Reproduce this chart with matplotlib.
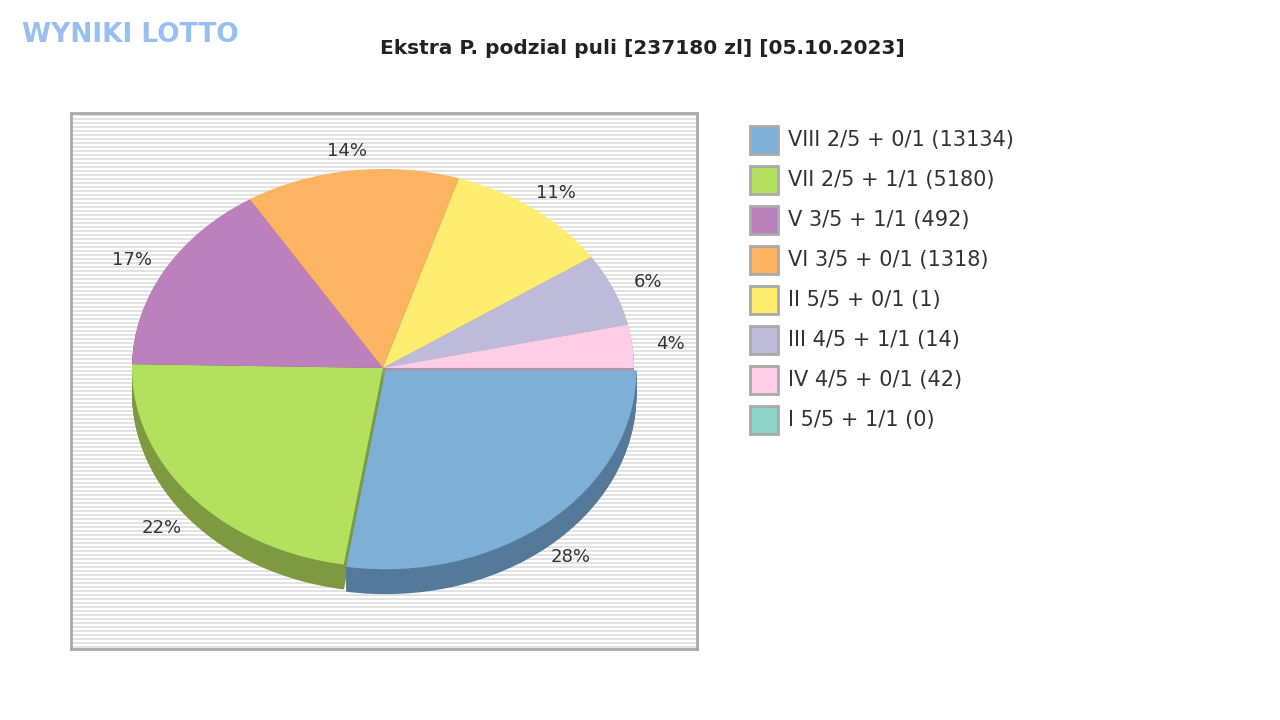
import numpy as np
import matplotlib
matplotlib.use("Agg")
import matplotlib.pyplot as plt

title = "Ekstra P. podzial puli [237180 zl] [05.10.2023]"
shares = [27.5, 22.8, 15.8, 13.8, 10.7, 5.9, 3.5]
pct_labels = ["28%", "22%", "17%", "14%", "11%", "6%", "4%"]
colors = ["#7eafd6", "#b3e05d", "#bc80bd", "#fdb462", "#ffed6f", "#bebada", "#fccde5"]
dark = ["#557a99", "#7d9a41", "#86598a", "#b57f44", "#b5a84e", "#87849c", "#b492a3"]
legend_labels = ["VIII 2/5 + 0/1 (13134)", "VII 2/5 + 1/1 (5180)", "V 3/5 + 1/1 (492)",
                 "VI 3/5 + 0/1 (1318)", "II 5/5 + 0/1 (1)", "III 4/5 + 1/1 (14)",
                 "IV 4/5 + 0/1 (42)", "I 5/5 + 1/1 (0)"]
legend_colors = colors + ["#8dd3c7"]

fig = plt.figure(figsize=(12.8, 7.2), dpi=100)
ax = fig.add_axes([71/1280, 71/720, 626/1280, 536/720])
ax.hlines(np.arange(0, 1, 4/536) + 2/536, 0, 1, transform=ax.transAxes, color="#e0e0e0", lw=1.3, zorder=0)

explode = [0.015] + [0]*6
depth = 0.125
for d in np.linspace(depth, 0.005, 25):
    ax.pie(shares, colors=dark, startangle=0, counterclock=False, explode=explode,
           center=(0, -d), radius=1, frame=True, normalize=True)
ax.pie(shares, colors=colors, startangle=0, counterclock=False, explode=explode,
       center=(0, 0), radius=1, frame=True, normalize=True)
ax.set_xlim(-1.243, 1.251)
ax.set_ylim(-1.412, 1.281)
ax.set_aspect('auto')
ax.set_xticks([]); ax.set_yticks([])
for s in ax.spines.values():
    s.set_color("#aaaaaa"); s.set_linewidth(2)

tot = sum(shares)
ang = 0
for s, lab in zip(shares, pct_labels):
    mid = ang + s/tot*180
    ang += s/tot*360
    t = np.deg2rad(-mid)
    x, y = 1.15*np.cos(t), 1.1*np.sin(t)
    if y < 0:
        y -= depth*1.2*abs(np.sin(t))
    ax.text(x, y, lab, ha="center", va="center", fontsize=13, color="#333333")

fig.text(642/1280, 1-48/720, title, ha="center", va="center", fontsize=14.5, fontweight="bold", color="#222222")
fig.text(22/1280, 1-35/720, "WYNIKI LOTTO", ha="left", va="center", fontsize=19, fontweight="bold",
         color="#8cb8f0", alpha=0.9)

for i, (lab, c) in enumerate(zip(legend_labels, legend_colors)):
    yc = 140 + 40*i
    fig.patches.append(plt.Rectangle((750/1280, 1-(yc+14)/720), 28/1280, 28/720,
                                     transform=fig.transFigure, facecolor=c, edgecolor="#aaaaaa", lw=2))
    fig.text(788/1280, 1-yc/720, lab, ha="left", va="center", fontsize=15, color="#333333")

fig.savefig("out.png", dpi=100)
